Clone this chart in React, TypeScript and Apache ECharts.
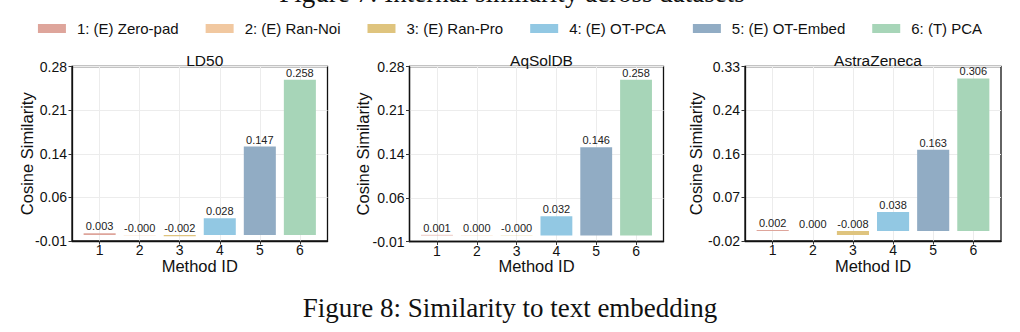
import React, { useEffect, useRef } from "react";
import * as echarts from "echarts";

const methodNames = ["1: (E) Zero-pad", "2: (E) Ran-Noi", "3: (E) Ran-Pro", "4: (E) OT-PCA", "5: (E) OT-Embed", "6: (T) PCA"];
const methodIds = [1, 2, 3, 4, 5, 6];
const methodColors = ["#DEA59B", "#F1C8A0", "#DFC47E", "#92C8E3", "#91ACC4", "#A7D5B8"];

const datasetNames = ["LD50", "AqSolDB", "AstraZeneca"];
const ld50Values = [0.003, -0.0003, -0.002, 0.028, 0.147, 0.258];
const aqsoldbValues = [0.001, 0.0002, -0.0004, 0.032, 0.146, 0.258];
const astraValues = [0.002, 0.0001, -0.008, 0.038, 0.163, 0.306];

const ld50Ticks = ["-0.01", "0.06", "0.14", "0.21", "0.28"];
const aqsoldbTicks = ["-0.01", "0.06", "0.14", "0.21", "0.28"];
const astraTicks = ["-0.02", "0.07", "0.16", "0.24", "0.33"];

const figureTopText = "Figure 7: Internal similarity across datasets";
const captionText = "Figure 8: Similarity to text embedding";

const panels = [
  { values: ld50Values, ticks: ld50Ticks, left: 72, top: 66.5, width: 255.5, height: 174.5, nameGap: 37 },
  { values: aqsoldbValues, ticks: aqsoldbTicks, left: 409.5, top: 66.5, width: 254, height: 175, nameGap: 38 },
  { values: astraValues, ticks: astraTicks, left: 745, top: 66.5, width: 256, height: 174.5, nameGap: 41 },
];

const FONT = "'Liberation Sans', Arial, sans-serif";
const SERIF = "'Liberation Serif', 'Times New Roman', serif";

export default function App() {
  const ref = useRef<HTMLDivElement>(null);
  useEffect(() => {
    if (!ref.current) return;
    const chart = echarts.init(ref.current, null, { renderer: "svg" });
    const xPad = 0.69;
    const xMin = methodIds[0] - xPad;
    const xMax = methodIds[methodIds.length - 1] + xPad;

    const grids: any[] = [];
    const xAxes: any[] = [];
    const yAxes: any[] = [];
    const titles: any[] = [];
    const series: any[] = [];

    panels.forEach((p, g) => {
      const yMin = parseFloat(p.ticks[0]);
      const yMax = parseFloat(p.ticks[p.ticks.length - 1]);
      const step = (yMax - yMin) / (p.ticks.length - 1);
      const barW = (p.width / (xMax - xMin)) * 0.8;
      grids.push({
        left: p.left, top: p.top, width: p.width, height: p.height,
        show: true, borderColor: "#111", borderWidth: 1.3, backgroundColor: "transparent",
      });
      titles.push({
        text: datasetNames[g], left: p.left + p.width / 2, top: 47, textAlign: "center",
        textStyle: { fontFamily: FONT, fontSize: 15.5, fontWeight: "normal", color: "#111" },
      });
      xAxes.push({
        type: "value", gridIndex: g, min: xMin, max: xMax,
        name: "Method ID", nameLocation: "middle", nameGap: 18, nameMoveOverlap: false,
        nameTextStyle: { fontFamily: FONT, fontSize: 16.5, lineHeight: 13, color: "#111" },
        axisLine: { show: true, onZero: false, lineStyle: { color: "#111", width: 1.3 } },
        axisTick: { show: true, length: 3.5, lineStyle: { color: "#333" }, customValues: methodIds },
        axisLabel: { fontFamily: FONT, fontSize: 14, lineHeight: 12, color: "#111", margin: 3, customValues: methodIds, formatter: (v: number) => String(v) },
        splitLine: { show: true, lineStyle: { color: "#ececec", width: 1 } },
      });
      yAxes.push({
        type: "value", gridIndex: g, min: yMin, max: yMax, interval: step,
        name: "Cosine Similarity", nameLocation: "middle", nameGap: p.nameGap, nameMoveOverlap: false,
        nameTextStyle: { fontFamily: FONT, fontSize: 16.5, color: "#111" },
        axisLine: { show: true, onZero: false, lineStyle: { color: "#111", width: 1.3 } },
        axisTick: { show: true, length: 3.5, lineStyle: { color: "#333" } },
        axisLabel: {
          fontFamily: FONT, fontSize: 14, color: "#111", margin: 5,
          formatter: (v: number) => p.ticks[Math.round((v - yMin) / step)] ?? "",
        },
        splitLine: { show: true, lineStyle: { color: "#ececec", width: 1 } },
      });
      methodNames.forEach((name, i) => {
        series.push({
          type: "bar", name, xAxisIndex: g, yAxisIndex: g,
          barWidth: barW, barGap: "-100%",
          itemStyle: { color: methodColors[i] },
          data: [[methodIds[i], p.values[i]]],
          label: {
            show: true, position: "top", distance: 1.5,
            fontFamily: FONT, fontSize: 11, color: "#222",
            formatter: (d: any) => d.value[1].toFixed(3),
          },
        });
      });
    });

    chart.setOption({
      animation: false,
      backgroundColor: "#fff",
      title: titles,
      legend: {
        data: methodNames, top: 16, left: "center", icon: "rect",
        itemWidth: 28, itemHeight: 9, itemGap: 27,
        textStyle: { fontFamily: FONT, fontSize: 15, color: "#111", padding: [0, 0, 0, 6] },
        selectedMode: false,
      },
      grid: grids, xAxis: xAxes, yAxis: yAxes, series,
      graphic: [
        { type: "text", x: 512, y: -7, style: { text: figureTopText, font: `27px ${SERIF}`, fill: "#111", align: "center", verticalAlign: "middle" } },
        { type: "text", x: 510, y: 308, style: { text: captionText, font: `27px ${SERIF}`, fill: "#111", align: "center", verticalAlign: "middle" } },
      ],
    });
    return () => chart.dispose();
  }, []);
  return <div ref={ref} style={{ position: "fixed", left: 0, top: 0, width: 1020, height: 332 }} />;
}
